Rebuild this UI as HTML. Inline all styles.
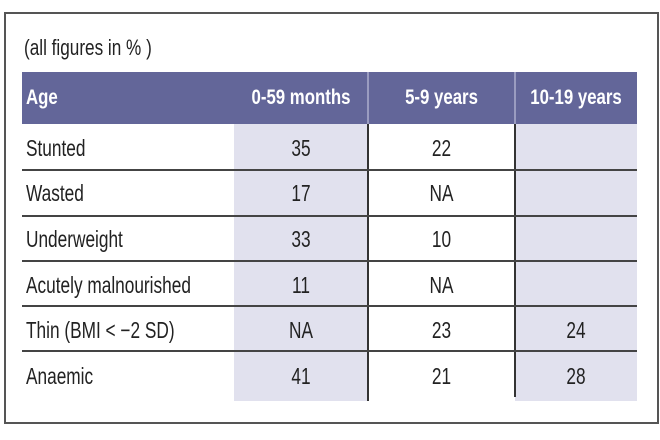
<!DOCTYPE html>
<html><head><style>
body{margin:0;width:660px;height:440px;background:#fff;position:relative;overflow:hidden;font-family:"Liberation Sans",sans-serif;}
.a{position:absolute}
.t{position:absolute;font-size:23px;color:#222;white-space:nowrap;transform:scaleX(0.75);transform-origin:left center;line-height:26px}
.c{transform-origin:center center;text-align:center}
.h{color:#fff;font-weight:bold;font-size:21px;transform:scaleX(0.8)}
</style></head><body>
<div class="a" style="left:4px;top:12px;width:651px;height:408px;border:2px solid #555;"></div>
<div class="t" style="left:24px;top:35px;font-size:22px;transform:scaleX(0.78)">(all figures in % )</div>
<div class="a" style="left:22px;top:72px;width:615px;height:52px;background:#636699"></div>
<div class="a" style="left:234px;top:124px;width:134px;height:277px;background:#e1e1ee"></div>
<div class="a" style="left:515px;top:124px;width:122px;height:277px;background:#e1e1ee"></div>
<div class="a" style="left:367px;top:72px;width:2px;height:52px;background:#9a9cc0"></div>
<div class="a" style="left:514px;top:72px;width:2px;height:52px;background:#9a9cc0"></div>
<div class="a" style="left:367px;top:124px;width:2px;height:277px;background:#333"></div>
<div class="a" style="left:514px;top:124px;width:2px;height:273px;background:#333"></div>
<div class="a" style="left:22px;top:169px;width:615px;height:2px;background:#444"></div>
<div class="a" style="left:22px;top:215px;width:615px;height:2px;background:#444"></div>
<div class="a" style="left:22px;top:260px;width:615px;height:2px;background:#444"></div>
<div class="a" style="left:22px;top:305px;width:615px;height:2px;background:#444"></div>
<div class="a" style="left:22px;top:350px;width:615px;height:2px;background:#444"></div>
<div class="t h" style="left:26px;top:85px">Age</div>
<div class="t h c" style="left:234px;width:134px;top:85px;padding-left:0">0-59 months</div>
<div class="t h c" style="left:368px;width:147px;top:85px">5-9 years</div>
<div class="t h c" style="left:515px;width:122px;top:85px">10-19 years</div>

<div class="t" style="left:26px;top:135px">Stunted</div>
<div class="t c" style="left:234px;width:134px;top:135px">35</div>
<div class="t c" style="left:368px;width:147px;top:135px">22</div>

<div class="t" style="left:26px;top:180px">Wasted</div>
<div class="t c" style="left:234px;width:134px;top:180px">17</div>
<div class="t c" style="left:368px;width:147px;top:180px">NA</div>

<div class="t" style="left:26px;top:226px">Underweight</div>
<div class="t c" style="left:234px;width:134px;top:226px">33</div>
<div class="t c" style="left:368px;width:147px;top:226px">10</div>

<div class="t" style="left:26px;top:272px">Acutely malnourished</div>
<div class="t c" style="left:234px;width:134px;top:272px">11</div>
<div class="t c" style="left:368px;width:147px;top:272px">NA</div>

<div class="t" style="left:26px;top:317px">Thin (BMI &lt; −2 SD)</div>
<div class="t c" style="left:234px;width:134px;top:317px">NA</div>
<div class="t c" style="left:368px;width:147px;top:317px">23</div>
<div class="t c" style="left:515px;width:122px;top:317px">24</div>

<div class="t" style="left:26px;top:363px">Anaemic</div>
<div class="t c" style="left:234px;width:134px;top:363px">41</div>
<div class="t c" style="left:368px;width:147px;top:363px">21</div>
<div class="t c" style="left:515px;width:122px;top:363px">28</div>
</body></html>
